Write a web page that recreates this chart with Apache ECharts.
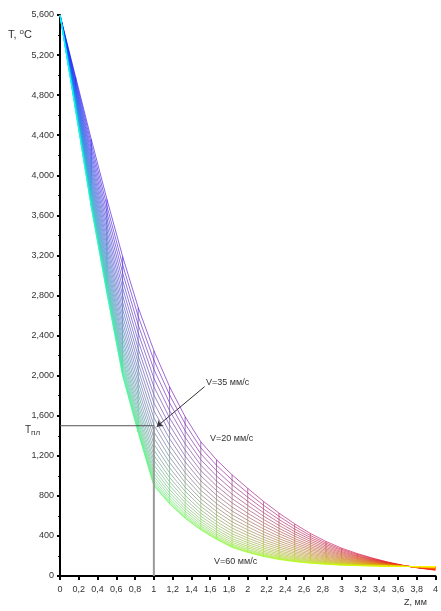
<!DOCTYPE html>
<html>
<head>
<meta charset="utf-8">
<script src="https://cdn.jsdelivr.net/npm/echarts@6/dist/echarts.min.js"></script>
<style>
  html, body { margin: 0; padding: 0; background: #ffffff; }
  #chart { width: 441px; height: 611px; }
</style>
</head>
<body>
<div id="chart"></div>
<script>
// глубина z, мм (сетка 1/6 мм)
const zValues = [0, 0.167, 0.333, 0.5, 0.667, 0.833, 1, 1.167, 1.333, 1.5, 1.667, 1.833,
  2, 2.167, 2.333, 2.5, 2.667, 2.833, 3, 3.167, 3.333, 3.5, 3.667, 3.833, 4];

// скорость V, мм/с
const speeds = [20, 21.7, 23.3, 25, 26.7, 28.3, 30, 31.7, 33.3, 35, 36.7, 38.3, 40,
  41.7, 43.3, 45, 46.7, 48.3, 50, 51.7, 53.3, 55, 56.7, 58.3, 60];

// температура T, °C для каждой скорости
const tV20 = [5600, 4980, 4360, 3760, 3190, 2680, 2250, 1890, 1590, 1340, 1160, 1010, 875, 745, 628, 520, 425, 345, 278, 224, 178, 138, 104, 78, 58];
const tV22 = [5600, 4956, 4313, 3694, 3107, 2593, 2156, 1808, 1519, 1279, 1105, 959, 830, 707, 596, 494, 404, 329, 266, 216, 173, 135, 103, 79, 60];
const tV23 = [5600, 4933, 4267, 3631, 3026, 2508, 2064, 1729, 1450, 1219, 1051, 910, 787, 669, 564, 468, 384, 314, 255, 207, 167, 132, 103, 80, 63];
const tV25 = [5600, 4911, 4222, 3569, 2948, 2426, 1976, 1652, 1384, 1161, 999, 863, 745, 633, 534, 443, 365, 299, 243, 199, 162, 130, 102, 81, 65];
const tV27 = [5600, 4889, 4179, 3509, 2873, 2347, 1890, 1578, 1320, 1106, 948, 817, 704, 598, 505, 420, 346, 284, 233, 192, 157, 127, 102, 82, 67];
const tV28 = [5600, 4869, 4137, 3452, 2800, 2270, 1808, 1507, 1257, 1052, 900, 772, 665, 565, 476, 397, 328, 270, 222, 184, 152, 125, 101, 83, 69];
const tV30 = [5600, 4849, 4097, 3396, 2730, 2197, 1728, 1437, 1197, 1000, 853, 730, 627, 532, 449, 374, 310, 257, 212, 177, 148, 122, 101, 84, 72];
const tV32 = [5600, 4829, 4058, 3343, 2662, 2126, 1651, 1371, 1140, 950, 807, 688, 591, 501, 423, 353, 293, 244, 203, 170, 143, 120, 100, 85, 74];
const tV33 = [5600, 4811, 4021, 3292, 2597, 2057, 1578, 1307, 1084, 902, 764, 649, 556, 471, 397, 332, 277, 231, 193, 164, 139, 118, 100, 86, 75];
const tV35 = [5600, 4793, 3986, 3243, 2535, 1992, 1507, 1246, 1032, 856, 723, 611, 523, 442, 373, 313, 262, 220, 184, 157, 135, 115, 99, 87, 77];
const tV37 = [5600, 4776, 3952, 3196, 2476, 1930, 1440, 1188, 981, 812, 683, 575, 491, 415, 350, 294, 247, 208, 176, 151, 131, 113, 99, 88, 79];
const tV38 = [5600, 4760, 3920, 3151, 2420, 1871, 1376, 1133, 933, 770, 645, 541, 461, 389, 328, 276, 233, 197, 168, 146, 127, 111, 98, 88, 81];
const tV40 = [5600, 4745, 3889, 3109, 2366, 1815, 1316, 1080, 887, 731, 610, 508, 432, 364, 307, 259, 219, 187, 160, 140, 124, 110, 98, 89, 82];
const tV42 = [5600, 4730, 3861, 3070, 2316, 1762, 1258, 1031, 845, 694, 576, 478, 405, 341, 288, 243, 207, 178, 153, 135, 121, 108, 97, 90, 84];
const tV43 = [5600, 4717, 3833, 3032, 2269, 1712, 1205, 984, 804, 659, 544, 449, 379, 319, 270, 228, 195, 168, 146, 130, 118, 106, 97, 90, 85];
const tV45 = [5600, 4704, 3808, 2997, 2225, 1666, 1155, 941, 767, 626, 515, 422, 356, 299, 252, 214, 184, 160, 140, 126, 115, 105, 97, 91, 86];
const tV47 = [5600, 4693, 3785, 2965, 2184, 1623, 1109, 901, 732, 596, 488, 397, 334, 280, 237, 201, 174, 152, 134, 122, 112, 103, 96, 92, 88];
const tV48 = [5600, 4682, 3764, 2936, 2147, 1584, 1066, 864, 700, 568, 463, 374, 314, 263, 222, 189, 165, 145, 129, 118, 110, 102, 96, 92, 89];
const tV50 = [5600, 4672, 3744, 2909, 2113, 1548, 1028, 831, 671, 543, 440, 354, 296, 247, 209, 179, 156, 139, 124, 114, 107, 101, 96, 92, 90];
const tV52 = [5600, 4664, 3727, 2885, 2083, 1517, 994, 801, 646, 521, 420, 335, 280, 233, 197, 169, 149, 133, 120, 111, 105, 100, 96, 93, 91];
const tV53 = [5600, 4656, 3712, 2865, 2057, 1489, 964, 776, 623, 502, 403, 319, 265, 221, 187, 161, 142, 128, 116, 109, 104, 99, 95, 93, 91];
const tV55 = [5600, 4650, 3700, 2847, 2035, 1467, 939, 754, 605, 486, 388, 306, 254, 211, 179, 154, 137, 124, 113, 107, 102, 98, 95, 94, 92];
const tV57 = [5600, 4645, 3690, 2834, 2017, 1448, 920, 737, 590, 473, 377, 296, 244, 203, 172, 149, 132, 120, 110, 105, 101, 98, 95, 94, 92];
const tV58 = [5600, 4641, 3683, 2824, 2005, 1436, 906, 725, 580, 464, 369, 288, 238, 197, 167, 145, 129, 118, 109, 104, 100, 97, 95, 94, 93];
const tV60 = [5600, 4640, 3680, 2820, 2000, 1430, 900, 720, 575, 460, 365, 285, 235, 195, 165, 143, 128, 117, 108, 103, 100, 97, 95, 94, 93];

const curves = [tV20, tV22, tV23, tV25, tV27, tV28, tV30, tV32, tV33, tV35, tV37, tV38, tV40,
  tV42, tV43, tV45, tV47, tV48, tV50, tV52, tV53, tV55, tV57, tV58, tV60];

// температура плавления и глубина
const meltT = 1500;
const meltZ = 1;
// стрелка к точке V=35 мм/с  [z, T]
const arrowFrom = [1.54, 1890];
const arrowTo = [1.03, 1490];

// цвет сетки: z -> от синего к красному, V -> добавка зелёного
function meshColor(zf, g) {
  let r = Math.round(255 * Math.pow(zf, 0.8));
  let gg = Math.round(255 * g);
  let b = Math.round(255 * Math.pow(1 - zf, 1 + 2 * g));
  return "rgb(" + r + "," + gg + "," + b + ")";
}

var series = [];
var zMax = zValues[zValues.length - 1];

// линии постоянной скорости
curves.forEach(function (arr, i) {
  var g = i / (curves.length - 1);
  var stops = [0, 0.1, 0.2, 0.3, 0.45, 0.6, 0.8, 1].map(function (o) {
    return { offset: o, color: meshColor(o, g) };
  });
  series.push({
    type: "line",
    data: zValues.map(function (z, k) { return [z, arr[k]]; }),
    symbol: "none",
    silent: true,
    lineStyle: {
      width: 1,
      opacity: 0.6,
      color: new echarts.graphic.LinearGradient(0, 0, 1, 0, stops),
    },
  });
});

// поперечные линии постоянной глубины
zValues.forEach(function (z, k) {
  if (k === 0) return;
  var zf = z / zMax;
  var stops = [0, 0.5, 1].map(function (o) {
    return { offset: o, color: meshColor(zf, o) };
  });
  series.push({
    type: "line",
    data: curves.map(function (arr) { return [z, arr[k]]; }),
    symbol: "none",
    silent: true,
    lineStyle: {
      width: 1,
      opacity: 0.6,
      color: new echarts.graphic.LinearGradient(0, 0, 0, 1, stops),
    },
  });
});

// Tпл
series.push({
  type: "line",
  data: [[0, meltT], [meltZ, meltT]],
  symbol: "none",
  silent: true,
  lineStyle: { width: 1, color: "#555555" },
});
series.push({
  type: "line",
  data: [[meltZ, meltT], [meltZ, 0]],
  symbol: "none",
  silent: true,
  lineStyle: { width: 2, color: "#9a9a9a" },
});
series.push({
  type: "lines",
  coordinateSystem: "cartesian2d",
  silent: true,
  symbol: ["none", "arrow"],
  symbolSize: 6,
  lineStyle: { width: 1, color: "#333333", opacity: 1 },
  data: [{ coords: [arrowFrom, arrowTo] }],
});

var font = "'Liberation Sans', Arial, sans-serif";

var option = {
  animation: false,
  backgroundColor: "#ffffff",
  grid: { left: 60, right: 4, top: 15, bottom: 35 },
  xAxis: {
    type: "value",
    min: 0,
    max: 4,
    interval: 0.2,
    axisLine: { lineStyle: { color: "#000000", width: 2 } },
    axisTick: { length: 4, lineStyle: { color: "#000000", width: 2 } },
    splitLine: { show: false },
    axisLabel: {
      margin: 9,
      fontSize: 9,
      fontFamily: font,
      color: "#333333",
      formatter: function (v) {
        return String(Math.round(v * 10) / 10).replace(".", ",");
      },
    },
  },
  yAxis: {
    type: "value",
    min: 0,
    max: 5600,
    interval: 400,
    axisLine: { show: true, lineStyle: { color: "#000000", width: 2 } },
    axisTick: { show: true, length: 3, lineStyle: { color: "#000000", width: 2 } },
    minorTick: { show: true, splitNumber: 2, length: 2, lineStyle: { color: "#000000", width: 1 } },
    splitLine: { show: false },
    axisLabel: {
      margin: 6,
      fontSize: 9,
      fontFamily: font,
      color: "#333333",
      formatter: function (v) {
        if (v < 1000) return String(v);
        return Math.floor(v / 1000) + "," + String(v % 1000).padStart(3, "0");
      },
    },
  },
  graphic: [
    {
      type: "text",
      left: 8,
      top: 28,
      style: {
        text: "T, {s|o}C",
        fontSize: 11,
        fontFamily: font,
        fill: "#333333",
        rich: { s: { fontSize: 8, verticalAlign: "top", padding: [0, 0, 5, 0] } },
      },
    },
    {
      type: "text",
      left: 404,
      top: 598,
      style: { text: "Z, мм", fontSize: 9, fontFamily: font, fill: "#333333" },
    },
    {
      type: "text",
      left: 25,
      top: 425,
      style: {
        text: "T{s|пл}",
        fontSize: 10,
        fontFamily: font,
        fill: "#333333",
        rich: { s: { fontSize: 8, padding: [5, 0, 0, 0] } },
      },
    },
    {
      type: "text",
      left: 206,
      top: 378,
      style: { text: "V=35 мм/с", fontSize: 9, fontFamily: font, fill: "#333333" },
    },
    {
      type: "text",
      left: 210,
      top: 434,
      style: { text: "V=20 мм/с", fontSize: 9, fontFamily: font, fill: "#333333" },
    },
    {
      type: "text",
      left: 214,
      top: 557,
      style: { text: "V=60 мм/с", fontSize: 9, fontFamily: font, fill: "#333333" },
    },
  ],
  series: series,
};

var chart = echarts.init(document.getElementById("chart"));
chart.setOption(option);
</script>
</body>
</html>
